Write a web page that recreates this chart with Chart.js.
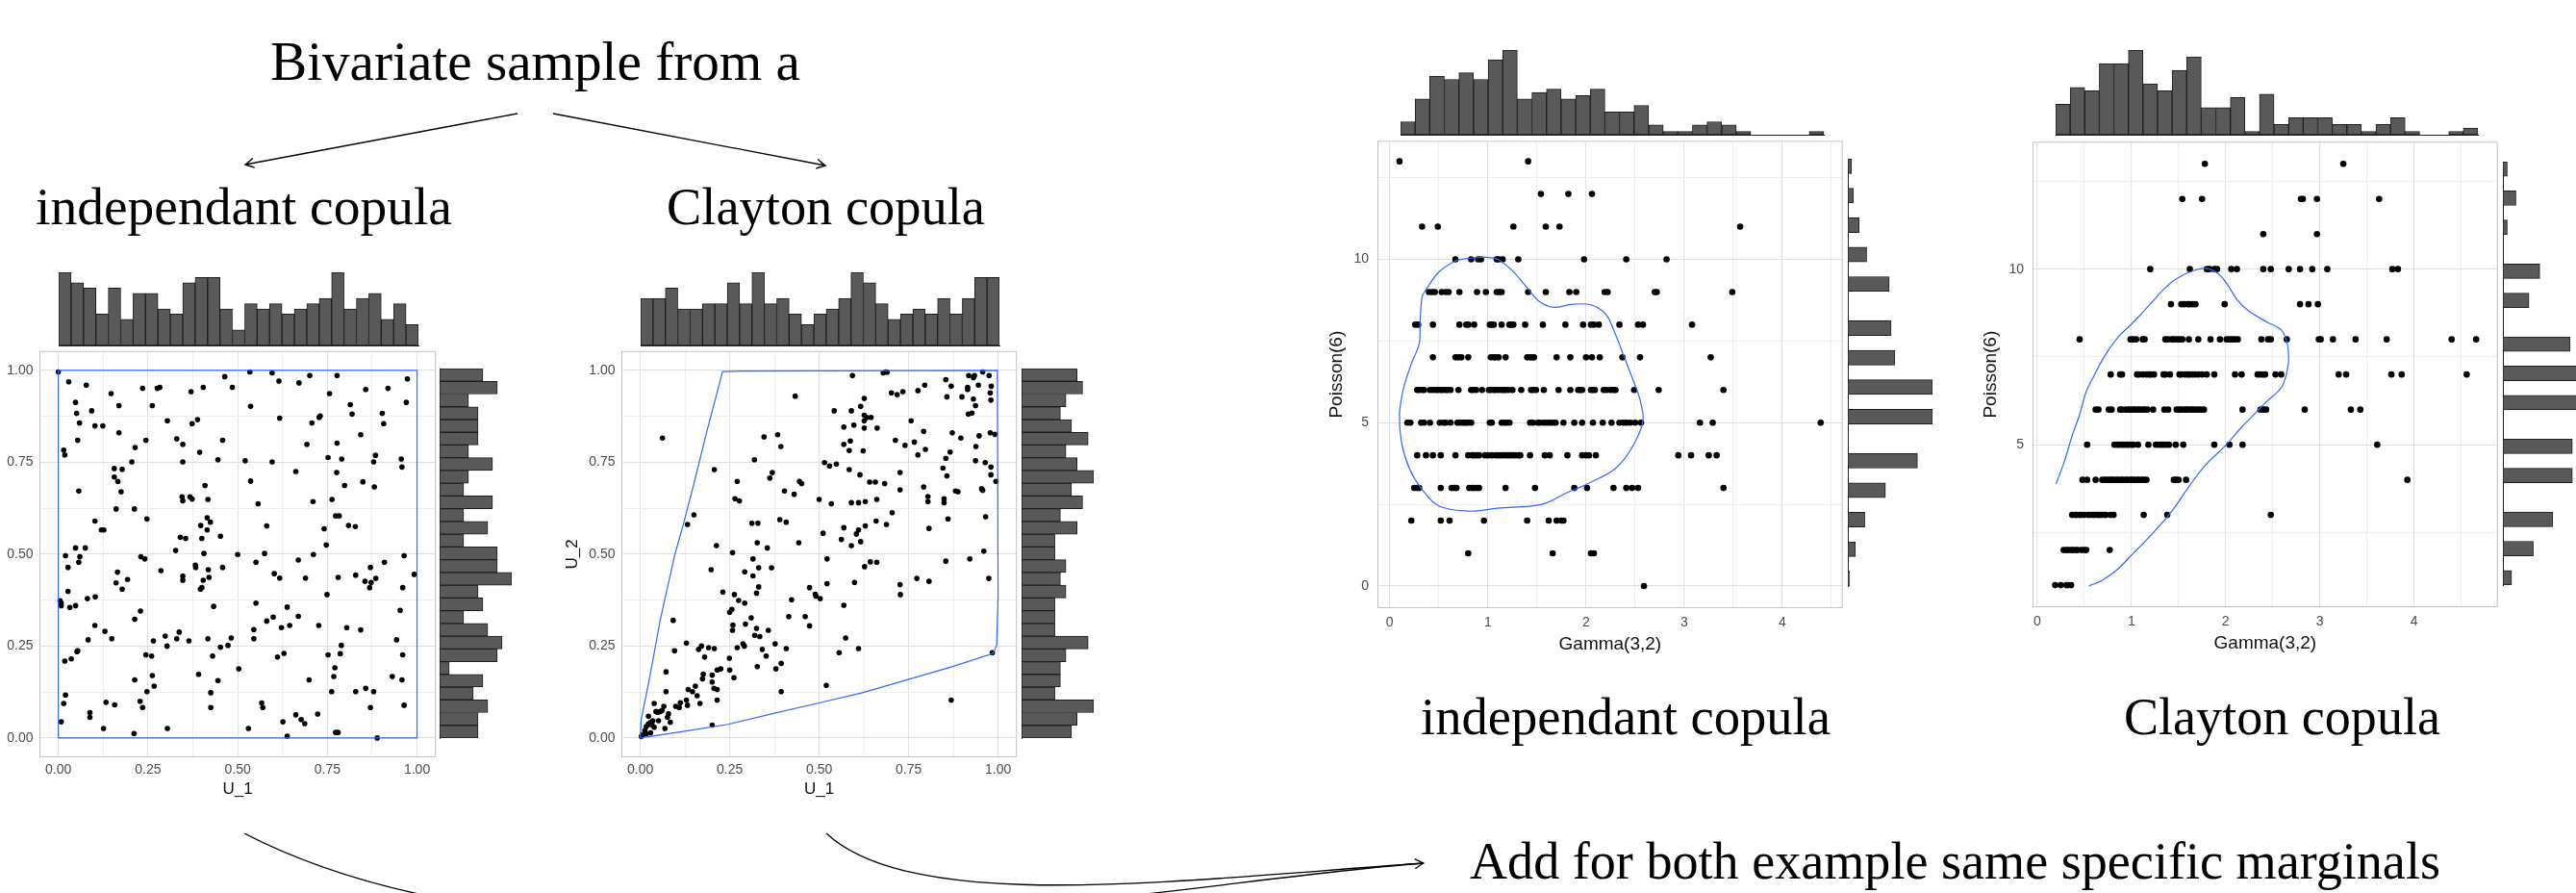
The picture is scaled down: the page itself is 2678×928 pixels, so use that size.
<!DOCTYPE html>
<html><head><meta charset="utf-8">
<script src="https://cdn.jsdelivr.net/npm/chart.js@4.4.1/dist/chart.umd.min.js"></script>
<style>
html,body{margin:0;padding:0;background:#fff;overflow:hidden;width:2678px;height:928px;}
#stage{position:relative;width:2678px;height:928px;overflow:hidden;background:#fff;}
#stage canvas{position:absolute;}
#ov{position:absolute;left:0;top:0;}
</style></head>
<body><div id="stage"><svg id="ov" width="2678" height="928" xmlns="http://www.w3.org/2000/svg"></svg></div>
<script>
// ---------------- DATA ----------------
const captions = ['Bivariate sample from a','independant copula','Clayton copula','Add for both example same specific marginals'];
const uTickValues = [0, 0.25, 0.5, 0.75, 1];
const uTickLabels = ['0.00','0.25','0.50','0.75','1.00'];
const gammaTickValues = [0, 1, 2, 3, 4];
const gammaTickLabels = ['0','1','2','3','4'];
const poissonTickValues = [0, 5, 10];
const poissonTickLabels = ['0','5','10'];

// independent copula sample (U_1, U_2)
const indepPoints = [[0.00,0.996],[0.534,0.996],[0.596,0.993],[0.701,0.986],[0.777,0.986],[0.464,0.983],[0.973,0.977],[0.029,0.969],[0.615,0.971],[0.671,0.966],[0.078,0.96],[0.235,0.951],[0.283,0.954],[0.276,0.951],[0.404,0.954],[0.485,0.954],[0.857,0.948],[0.919,0.951],[0.147,0.937],[0.370,0.942],[0.756,0.937],[0.048,0.913],[0.970,0.913],[0.814,0.907],[0.169,0.904],[0.262,0.904],[0.536,0.902],[0.093,0.89],[0.051,0.883],[0.819,0.881],[0.903,0.883],[0.730,0.876],[0.727,0.872],[0.617,0.870],[0.304,0.863],[0.388,0.866],[0.059,0.857],[0.373,0.855],[0.707,0.857],[0.907,0.855],[0.102,0.849],[0.124,0.849],[0.169,0.83],[0.843,0.825],[0.054,0.81],[0.244,0.81],[0.330,0.814],[0.458,0.81],[0.214,0.79],[0.347,0.799],[0.693,0.799],[0.777,0.802],[0.394,0.777],[0.015,0.783],[0.018,0.77],[0.884,0.769],[0.752,0.763],[0.790,0.759],[0.956,0.759],[0.205,0.751],[0.347,0.751],[0.445,0.757],[0.521,0.754],[0.596,0.751],[0.879,0.751],[0.958,0.737],[0.156,0.733],[0.178,0.731],[0.662,0.725],[0.776,0.722],[0.156,0.71],[0.166,0.698],[0.536,0.699],[0.849,0.697],[0.409,0.687],[0.798,0.687],[0.881,0.683],[0.057,0.672],[0.175,0.670],[0.345,0.656],[0.367,0.656],[0.347,0.645],[0.373,0.65],[0.417,0.649],[0.763,0.649],[0.710,0.643],[0.557,0.637],[0.161,0.623],[0.212,0.623],[0.773,0.604],[0.783,0.604],[0.415,0.599],[0.247,0.596],[0.102,0.59],[0.424,0.587],[0.397,0.578],[0.581,0.577],[0.809,0.578],[0.828,0.575],[0.12,0.566],[0.127,0.566],[0.415,0.566],[0.741,0.569],[0.452,0.549],[0.340,0.546],[0.355,0.543],[0.400,0.543],[0.747,0.525],[0.048,0.517],[0.075,0.517],[0.327,0.51],[0.02,0.496],[0.406,0.502],[0.5,0.499],[0.575,0.502],[0.711,0.499],[0.964,0.496],[0.060,0.493],[0.230,0.493],[0.241,0.487],[0.057,0.478],[0.551,0.478],[0.669,0.484],[0.909,0.478],[0.027,0.464],[0.382,0.47],[0.383,0.464],[0.458,0.464],[0.418,0.458],[0.870,0.464],[0.286,0.455],[0.165,0.451],[0.992,0.445],[0.602,0.447],[0.617,0.435],[0.689,0.435],[0.780,0.437],[0.829,0.443],[0.885,0.434],[0.347,0.44],[0.347,0.429],[0.420,0.437],[0.404,0.429],[0.193,0.431],[0.855,0.426],[0.872,0.423],[0.161,0.422],[0.868,0.409],[0.960,0.409],[0.400,0.409],[0.396,0.405],[0.178,0.405],[0.027,0.399],[0.749,0.39],[0.103,0.384],[0.081,0.379],[0.005,0.373],[0.008,0.367],[0.551,0.367],[0.008,0.36],[0.048,0.36],[0.032,0.355],[0.433,0.358],[0.638,0.356],[0.953,0.347],[0.229,0.345],[0.669,0.331],[0.599,0.329],[0.213,0.323],[0.581,0.318],[0.102,0.306],[0.645,0.306],[0.726,0.306],[0.622,0.3],[0.804,0.3],[0.843,0.294],[0.545,0.295],[0.13,0.29],[0.337,0.288],[0.298,0.277],[0.482,0.272],[0.149,0.27],[0.330,0.27],[0.417,0.27],[0.545,0.27],[0.083,0.267],[0.943,0.267],[0.364,0.264],[0.265,0.264],[0.303,0.25],[0.789,0.252],[0.473,0.252],[0.452,0.247],[0.054,0.237],[0.052,0.235],[0.629,0.23],[0.786,0.229],[0.244,0.226],[0.260,0.223],[0.752,0.226],[0.960,0.226],[0.430,0.223],[0.611,0.22],[0.036,0.215],[0.018,0.209],[0.771,0.191],[0.503,0.188],[0.391,0.173],[0.262,0.17],[0.768,0.167],[0.931,0.167],[0.213,0.158],[0.699,0.158],[0.958,0.158],[0.445,0.156],[0.267,0.141],[0.857,0.135],[0.247,0.126],[0.425,0.123],[0.762,0.126],[0.829,0.126],[0.879,0.126],[0.02,0.117],[0.228,0.1],[0.133,0.097],[0.567,0.095],[0.015,0.094],[0.157,0.09],[0.964,0.089],[0.57,0.083],[0.235,0.083],[0.425,0.083],[0.870,0.083],[0.088,0.069],[0.723,0.065],[0.088,0.056],[0.662,0.063],[0.677,0.05],[0.687,0.039],[0.008,0.044],[0.626,0.044],[0.126,0.026],[0.304,0.026],[0.530,0.026],[0.211,0.012],[0.773,0.015],[0.780,0.015],[0.638,0.005],[0.889,0.0]];
const indepOutline = [[0,0],[0,1],[1,1],[1,0],[0,0]];
const indepU1Hist = [14,12,11,6,11,5,10,10,7,6,12,13,13,7,3,8,7,8,6,7,8,9,14,7,9,10,5,8,4];
const indepU2Hist = [8,8,10,7,9,2,12,13,10,5,9,8,15,12,12,5,10,5,11,5,6,11,6,8,8,8,6,12,9];

// Clayton copula sample (U_1, U_2)
const claytonPoints = [[0.957,0.996],[0.686,0.996],[0.679,0.993],[0.690,0.995],[0.593,0.986],[0.918,0.986],[0.934,0.986],[0.975,0.986],[0.931,0.98],[0.854,0.975],[0.869,0.957],[0.795,0.96],[0.945,0.96],[0.981,0.957],[0.915,0.954],[0.915,0.948],[0.776,0.945],[0.702,0.939],[0.734,0.942],[0.718,0.934],[0.978,0.939],[0.433,0.930],[0.857,0.928],[0.899,0.928],[0.626,0.924],[0.931,0.922],[0.980,0.919],[0.937,0.904],[0.616,0.902],[0.542,0.89],[0.590,0.89],[0.626,0.878],[0.633,0.872],[0.645,0.872],[0.917,0.881],[0.927,0.884],[0.757,0.863],[0.626,0.863],[0.597,0.851],[0.569,0.846],[0.626,0.843],[0.662,0.843],[0.792,0.834],[0.872,0.830],[0.978,0.830],[0.991,0.826],[0.384,0.825],[0.947,0.822],[0.346,0.819],[0.062,0.816],[0.896,0.816],[0.713,0.81],[0.587,0.808],[0.766,0.805],[0.569,0.799],[0.740,0.796],[0.938,0.793],[0.393,0.793],[0.797,0.785],[0.584,0.782],[0.623,0.781],[0.866,0.778],[0.776,0.77],[0.854,0.761],[0.319,0.757],[0.937,0.754],[0.515,0.749],[0.964,0.749],[0.548,0.745],[0.529,0.740],[0.980,0.737],[0.846,0.734],[0.207,0.730],[0.584,0.730],[0.369,0.722],[0.726,0.722],[0.980,0.716],[0.614,0.716],[0.857,0.713],[0.362,0.707],[0.271,0.698],[0.445,0.698],[0.994,0.698],[0.451,0.692],[0.641,0.696],[0.657,0.696],[0.683,0.692],[0.792,0.683],[0.954,0.678],[0.957,0.674],[0.403,0.672],[0.726,0.675],[0.881,0.672],[0.888,0.67],[0.430,0.663],[0.804,0.657],[0.500,0.649],[0.661,0.649],[0.849,0.651],[0.265,0.651],[0.277,0.645],[0.804,0.643],[0.849,0.64],[0.590,0.64],[0.610,0.64],[0.629,0.643],[0.534,0.637],[0.704,0.613],[0.965,0.602],[0.150,0.607],[0.860,0.596],[0.390,0.594],[0.408,0.587],[0.659,0.59],[0.312,0.584],[0.329,0.584],[0.688,0.581],[0.132,0.581],[0.629,0.577],[0.569,0.572],[0.807,0.57],[0.610,0.566],[0.604,0.555],[0.511,0.557],[0.562,0.54],[0.616,0.534],[0.327,0.531],[0.443,0.531],[0.590,0.523],[0.213,0.523],[0.355,0.517],[0.960,0.508],[0.258,0.504],[0.315,0.487],[0.522,0.487],[0.921,0.487],[0.854,0.481],[0.643,0.479],[0.661,0.478],[0.627,0.466],[0.331,0.463],[0.367,0.463],[0.198,0.458],[0.292,0.452],[0.315,0.441],[0.974,0.434],[0.773,0.434],[0.807,0.426],[0.599,0.423],[0.522,0.42],[0.726,0.417],[0.331,0.411],[0.473,0.409],[0.231,0.397],[0.325,0.394],[0.263,0.39],[0.727,0.39],[0.489,0.391],[0.491,0.386],[0.503,0.379],[0.423,0.376],[0.275,0.374],[0.292,0.367],[0.569,0.361],[0.256,0.35],[0.250,0.342],[0.310,0.327],[0.415,0.33],[0.461,0.33],[0.092,0.32],[0.294,0.31],[0.259,0.307],[0.473,0.305],[0.325,0.298],[0.258,0.293],[0.358,0.293],[0.320,0.279],[0.334,0.276],[0.574,0.272],[0.129,0.258],[0.287,0.256],[0.377,0.256],[0.291,0.25],[0.171,0.25],[0.163,0.241],[0.191,0.246],[0.207,0.243],[0.271,0.246],[0.341,0.241],[0.408,0.243],[0.610,0.243],[0.096,0.237],[0.556,0.232],[0.984,0.232],[0.352,0.223],[0.180,0.22],[0.249,0.217],[0.394,0.203],[0.327,0.194],[0.225,0.188],[0.215,0.185],[0.379,0.188],[0.250,0.185],[0.072,0.18],[0.176,0.174],[0.201,0.171],[0.262,0.164],[0.174,0.161],[0.201,0.152],[0.520,0.143],[0.154,0.141],[0.206,0.135],[0.215,0.132],[0.134,0.132],[0.146,0.126],[0.072,0.126],[0.394,0.126],[0.159,0.115],[0.129,0.103],[0.215,0.103],[0.869,0.103],[0.167,0.094],[0.039,0.094],[0.112,0.096],[0.132,0.089],[0.099,0.086],[0.066,0.086],[0.109,0.083],[0.061,0.075],[0.044,0.072],[0.049,0.07],[0.056,0.072],[0.079,0.066],[0.023,0.059],[0.076,0.056],[0.035,0.047],[0.051,0.047],[0.084,0.043],[0.029,0.042],[0.023,0.038],[0.033,0.035],[0.017,0.031],[0.039,0.029],[0.069,0.026],[0.201,0.035],[0.013,0.02],[0.029,0.014],[0.017,0.011],[0.007,0.009],[0.003,0.004]];
const claytonOutline = [[0,0],[0.003,0.052],[0.025,0.157],[0.056,0.322],[0.096,0.496],[0.121,0.583],[0.151,0.696],[0.185,0.830],[0.21,0.922],[0.23,0.997],[0.284,0.998],[0.998,1.0],[1.0,0.383],[0.996,0.252],[0.986,0.23],[0.869,0.193],[0.621,0.123],[0.502,0.096],[0.364,0.065],[0.245,0.037],[0.116,0.017],[0,0]];
const claytonU1Hist = [9,9,11,7,7,8,8,12,8,14,8,9,6,4,6,7,9,14,12,8,5,6,7,6,9,6,9,13,13];
const claytonU2Hist = [9,10,13,6,7,7,8,12,6,6,6,8,7,8,6,6,10,7,11,9,13,10,8,12,9,7,8,11,10];

// Gamma(3,2) x Poisson(6) samples, one row of Gamma values per Poisson level
const poissonLevels = [13,12,11,10,9,8,7,6,5,4,3,2,1,0];
const indepGammaRows = [
 [0.10,1.41],
 [1.54,1.82,2.06],
 [0.33,0.49,1.26,1.59,1.73,3.57],
 [0.67,0.83,0.90,0.93,1.09,1.11,1.15,1.31,1.98,2.41,2.82],
 [0.40,0.43,0.46,0.53,0.57,0.60,0.71,0.89,0.98,1.09,1.12,1.14,1.41,1.59,1.83,1.90,2.19,2.22,2.70,2.72,3.49],
 [0.26,0.29,0.44,0.71,0.78,0.80,0.86,1.02,1.04,1.06,1.14,1.22,1.24,1.26,1.38,1.56,1.79,1.97,2.05,2.08,2.13,2.34,2.53,2.58,3.08],
 [0.44,0.67,0.70,0.73,0.80,1.03,1.06,1.08,1.11,1.18,1.40,1.43,1.45,1.47,1.70,1.84,2.00,2.06,2.14,2.37,2.55,3.27],
 [0.28,0.30,0.33,0.35,0.41,0.44,0.47,0.49,0.52,0.54,0.57,0.59,0.62,0.70,0.83,0.85,0.88,0.94,1.01,1.03,1.06,1.08,1.11,1.14,1.16,1.18,1.21,1.25,1.34,1.44,1.46,1.49,1.57,1.72,1.84,1.92,1.94,1.96,2.05,2.07,2.09,2.18,2.21,2.25,2.28,2.30,2.49,2.74,3.40],
 [0.18,0.21,0.32,0.35,0.41,0.51,0.55,0.57,0.62,0.69,0.71,0.74,0.76,0.78,0.80,0.83,1.02,1.04,1.14,1.17,1.19,1.22,1.43,1.46,1.51,1.53,1.57,1.60,1.63,1.66,1.69,1.77,1.88,1.96,2.07,2.17,2.26,2.34,2.38,2.41,2.45,2.50,2.56,3.16,3.29,4.39],
 [0.28,0.37,0.44,0.52,0.67,0.80,0.84,0.86,0.89,0.91,0.97,1.00,1.04,1.08,1.11,1.14,1.17,1.20,1.22,1.25,1.28,1.31,1.33,1.43,1.58,1.63,1.81,1.96,2.00,2.03,2.10,2.94,3.07,3.25,3.33],
 [0.25,0.28,0.30,0.52,0.63,0.66,0.68,0.81,0.84,0.86,0.89,0.91,1.18,1.48,1.88,2.01,2.28,2.41,2.47,2.53,3.40],
 [0.22,0.52,0.61,0.96,1.40,1.62,1.70,1.75,1.77],
 [0.80,1.66,2.05,2.08],
 [2.59]
];
const claytonGammaRows = [
 [1.78,3.25],
 [1.54,1.75,2.80,2.82,2.97,3.63],
 [2.40,2.97],
 [1.20,1.62,1.80,1.83,1.88,1.91,2.06,2.12,2.40,2.48,2.67,2.79,2.92,3.08,3.77,3.83],
 [1.42,1.53,1.56,1.60,1.62,1.65,1.68,1.99,2.79,2.88,2.98],
 [0.45,0.99,1.02,1.05,1.12,1.14,1.36,1.39,1.43,1.45,1.48,1.51,1.54,1.61,1.71,1.84,1.94,2.01,2.04,2.07,2.10,2.13,2.38,2.45,2.48,2.65,2.99,3.01,3.14,3.38,3.71,4.40,4.66],
 [0.78,0.88,0.90,1.06,1.08,1.12,1.16,1.19,1.21,1.24,1.34,1.36,1.41,1.51,1.53,1.57,1.60,1.62,1.65,1.68,1.71,1.75,1.80,1.88,2.10,2.17,2.34,2.37,2.40,2.42,2.53,2.59,3.20,3.28,3.76,3.87,4.56],
 [0.62,0.65,0.76,0.79,0.88,0.90,0.94,0.97,0.99,1.02,1.04,1.07,1.09,1.12,1.14,1.17,1.23,1.35,1.39,1.48,1.51,1.53,1.56,1.58,1.60,1.63,1.65,1.68,1.71,1.74,1.77,2.18,2.37,2.40,2.43,2.84,3.33,3.43],
 [0.53,0.82,0.85,0.87,0.90,0.92,0.95,0.97,1.00,1.02,1.07,1.18,1.26,1.29,1.32,1.34,1.37,1.40,1.47,1.55,1.88,2.04,2.18,3.61],
 [0.48,0.53,0.62,0.69,0.72,0.74,0.77,0.79,0.81,0.84,0.86,0.89,0.91,0.94,0.96,0.99,1.01,1.03,1.06,1.08,1.11,1.13,1.16,1.45,1.47,1.50,1.58,3.93],
 [0.37,0.40,0.42,0.45,0.47,0.50,0.54,0.56,0.59,0.61,0.64,0.66,0.68,0.71,0.73,0.78,0.81,1.13,1.38,2.48],
 [0.28,0.31,0.33,0.36,0.38,0.41,0.43,0.47,0.50,0.52,0.77],
 [0.19,0.25,0.31,0.33,0.36],
 []
];
const indepContour = [[0.96,10.07],[0.80,10.03],[0.67,9.95],[0.50,9.61],[0.37,9.07],[0.33,8.85],[0.31,8.1],[0.30,7.41],[0.22,6.8],[0.14,6.04],[0.10,5.26],[0.12,4.4],[0.2,3.6],[0.33,2.95],[0.50,2.45],[0.80,2.29],[1.1,2.38],[1.55,2.5],[1.8,2.85],[2.01,3.12],[2.30,3.6],[2.48,4.3],[2.58,5.07],[2.55,5.7],[2.50,6.14],[2.39,7.0],[2.30,7.7],[2.21,8.29],[2.10,8.55],[2.01,8.63],[1.85,8.62],[1.67,8.53],[1.52,8.72],[1.38,9.2],[1.25,9.65],[1.10,10.0],[0.96,10.07]];
const claytonContour = [[0.20,3.88],[0.29,4.54],[0.37,5.25],[0.45,5.86],[0.52,6.51],[0.60,6.95],[0.71,7.5],[0.86,8.07],[0.98,8.38],[1.10,8.71],[1.22,9.06],[1.34,9.42],[1.47,9.71],[1.63,9.93],[1.79,10.02],[1.91,9.89],[2.00,9.64],[2.12,9.14],[2.24,8.82],[2.44,8.49],[2.59,8.27],[2.65,7.94],[2.67,7.5],[2.65,7.06],[2.59,6.62],[2.44,6.24],[2.32,5.91],[2.16,5.47],[2.00,4.98],[1.79,4.43],[1.63,3.88],[1.43,3.11],[1.22,2.46],[1.02,1.91],[0.86,1.47],[0.69,1.14],[0.55,0.98]];
const indepGammaHist = [4,11,18,17,19,17,23,26,11,13,14,11,12,14,7,7,9,3,1,1,3,4,3,1,0,0,0,0,1];
const indepPoissonHist = [1,0,4,0,9,0,20,0,37,0,0,45,0,45,0,25,0,23,0,0,22,0,10,0,6,0,3,0,2];
const claytonGammaHist = [9,14,13,21,21,25,15,13,19,23,8,8,11,1,12,3,5,5,5,3,3,1,3,5,1,0,0,1,2];
const claytonPoissonHist = [4,0,14,0,23,0,0,32,0,32,0,0,39,0,36,0,31,0,0,12,0,17,0,0,2,0,6,0,2];

// ---------------- DRAWING ----------------
Chart.defaults.font.family = "'Liberation Sans', Arial, sans-serif";
const stage = document.getElementById('stage');
function addCanvas(left, top, w, h) {
  const c = document.createElement('canvas');
  c.width = w; c.height = h;
  c.style.left = left + 'px'; c.style.top = top + 'px';
  c.style.width = w + 'px'; c.style.height = h + 'px';
  stage.appendChild(c);
  return c.getContext('2d');
}
const framePlugin = {
  id: 'frame',
  beforeDatasetsDraw(chart, args, opts) {
    const a = chart.chartArea, ctx = chart.ctx;
    ctx.save(); ctx.strokeStyle = opts.color || '#c0c0c0'; ctx.lineWidth = 1;
    ctx.strokeRect(a.left - 0.5, a.top - 0.5, a.right - a.left + 1, a.bottom - a.top + 1);
    ctx.restore();
  }
};
const near = (a, b) => Math.abs(a - b) < 1e-9;
const toXY = arr => arr.map(p => ({x: p[0], y: p[1]}));
const rowsToXY = rows => rows.flatMap((row, i) => row.map(x => ({x, y: poissonLevels[i]})));
const midpoints = vals => vals.slice(0, -1).map((v, i) => (v + vals[i + 1]) / 2);
function zeroPad(s) { s.paddingLeft = 0; s.paddingRight = 0; s.paddingTop = 0; s.paddingBottom = 0; }

function scatterPanel(o) {
  const ctx = addCanvas(o.left, o.top, o.w, o.h);
  const inRange = (v, lo, hi) => v >= lo - 1e-9 && v <= hi + 1e-9;
  const xAll = o.xMajor.concat(o.xMinor).filter(v => inRange(v, o.xMin, o.xMax)).sort((a, b) => a - b);
  const yAll = o.yMajor.concat(o.yMinor).filter(v => inRange(v, o.yMin, o.yMax)).sort((a, b) => a - b);
  const label = (vals, labels) => v => { const i = vals.findIndex(m => near(m, v)); return i >= 0 ? labels[i] : ''; };
  const gridColor = vals => c => (c.tick && vals.some(m => near(m, c.tick.value))) ? '#e0e0e0' : '#eeeeee';
  const tickFont = {size: o.tickSize};
  const titleFont = {size: o.titleSize};
  new Chart(ctx, {
    type: 'scatter',
    data: {datasets: [
      {data: toXY(o.line), showLine: true, borderColor: '#3366FF', borderWidth: 1.2, pointRadius: 0, fill: false, tension: o.tension},
      {data: o.points, pointRadius: o.r, pointHoverRadius: o.r, backgroundColor: '#000', borderWidth: 0}
    ]},
    options: {
      responsive: false, animation: false, events: [],
      layout: {padding: {left: 0, top: 1, right: 1, bottom: 0}},
      plugins: {legend: {display: false}, tooltip: {enabled: false}, frame: {color: '#c4c4c4'}},
      scales: {
        x: {type: 'linear', min: o.xMin, max: o.xMax,
          afterBuildTicks: s => { s.ticks = xAll.map(v => ({value: v})); },
          afterFit: s => { s.height = o.xH; zeroPad(s); },
          ticks: {callback: label(o.xMajor, o.xLabels), color: '#4d4d4d', font: tickFont, padding: o.xPad, autoSkip: false, maxRotation: 0, minRotation: 0},
          grid: {drawTicks: false, color: gridColor(o.xMajor), lineWidth: 1},
          border: {display: false},
          title: {display: true, text: o.xTitle, color: '#111', font: titleFont, padding: {top: 0, bottom: o.xTitlePad}}},
        y: {type: 'linear', min: o.yMin, max: o.yMax,
          afterBuildTicks: s => { s.ticks = yAll.map(v => ({value: v})); },
          afterFit: s => { s.width = o.yW; zeroPad(s); },
          ticks: {callback: label(o.yMajor, o.yLabels), color: '#4d4d4d', font: tickFont, padding: o.yPad, autoSkip: false},
          grid: {drawTicks: false, color: gridColor(o.yMajor), lineWidth: 1},
          border: {display: false},
          title: {display: true, text: o.yTitle, color: '#111', font: titleFont, padding: {top: o.yTitlePad, bottom: 0}}}
      }
    },
    plugins: [framePlugin]
  });
}

function histPanel(o) {
  const P = 2;
  const ctx = addCanvas(o.left - P, o.top - P, o.w + 2 * P, o.h + 2 * P);
  const labels = o.counts.map((_, i) => 'bin' + i);
  const cat = {type: 'category', display: true, reverse: !!o.horizontal, offset: true,
    ticks: {display: false}, grid: {display: false, drawTicks: false},
    border: {display: true, color: '#222', width: 1},
    afterFit: s => { if (o.horizontal) s.width = 0; else s.height = 0; zeroPad(s); }};
  const val = {type: 'linear', display: false, min: 0, max: Math.max(...o.counts)};
  new Chart(ctx, {
    type: 'bar',
    data: {labels, datasets: [{data: o.counts, backgroundColor: '#595959', borderColor: '#1e1e1e', borderWidth: 1, borderSkipped: false, barPercentage: 1, categoryPercentage: 1}]},
    options: {indexAxis: o.horizontal ? 'y' : 'x', responsive: false, animation: false, events: [],
      layout: {padding: P}, plugins: {legend: {display: false}, tooltip: {enabled: false}},
      scales: o.horizontal ? {y: cat, x: val} : {x: cat, y: val}}
  });
}

// --- U panels (left group) ---
const uCommon = {xMin: -0.05, xMax: 1.05, yMin: -0.05, yMax: 1.05,
  xMajor: uTickValues, xMinor: midpoints(uTickValues), xLabels: uTickLabels,
  yMajor: uTickValues, yMinor: midpoints(uTickValues), yLabels: uTickLabels,
  xTitle: 'U_1', yTitle: 'U_2', tickSize: 14, titleSize: 17, r: 2.8,
  yW: 64, xH: 46, xPad: 6, yPad: 7.5, yTitlePad: 2.3, xTitlePad: 1.8, w: 477, h: 469, top: 363, tension: 0};
scatterPanel(Object.assign({}, uCommon, {left: -22, points: toXY(indepPoints), line: indepOutline}));
scatterPanel(Object.assign({}, uCommon, {left: 583, w: 476, points: toXY(claytonPoints), line: claytonOutline}));
histPanel({left: 61, top: 283, w: 374, h: 76, counts: indepU1Hist});
histPanel({left: 457, top: 383, w: 75, h: 384, counts: indepU2Hist, horizontal: true});
histPanel({left: 666, top: 283, w: 373, h: 76, counts: claytonU1Hist});
histPanel({left: 1062, top: 383, w: 75, h: 384, counts: claytonU2Hist, horizontal: true});

// --- Gamma / Poisson panels (right group) ---
const gCommon = {xMajor: gammaTickValues, xMinor: midpoints(gammaTickValues.concat([5])), xLabels: gammaTickLabels,
  yLabels: poissonTickLabels, xTitle: 'Gamma(3,2)', yTitle: 'Poisson(6)', tickSize: 14, titleSize: 19, r: 3.3,
  yW: 60, xH: 52, xPad: 8, yPad: 10, tension: 0.35};
scatterPanel(Object.assign({}, gCommon, {left: 1373, top: 144, w: 545, h: 539,
  xMin: -0.115, xMax: 4.605, yMin: -0.65, yMax: 13.6,
  yMajor: poissonTickValues, yMinor: midpoints(poissonTickValues.concat([15])),
  yTitlePad: 5.6, xTitlePad: 1.6, points: rowsToXY(indepGammaRows), line: indepContour}));
scatterPanel(Object.assign({}, gCommon, {left: 2054, top: 145, w: 545, h: 537,
  xMin: -0.04, xMax: 4.88, yMin: 0.4, yMax: 13.6,
  yMajor: poissonTickValues, yMinor: midpoints(poissonTickValues.concat([15])),
  yTitlePad: 4.6, xTitlePad: 1.9, points: rowsToXY(claytonGammaRows), line: claytonContour}));
histPanel({left: 1456, top: 52, w: 440, h: 88, counts: indepGammaHist});
histPanel({left: 1921, top: 165, w: 88, h: 444, counts: indepPoissonHist, horizontal: true});
histPanel({left: 2137, top: 52, w: 439, h: 88, counts: claytonGammaHist});
histPanel({left: 2602, top: 168, w: 88, h: 440, counts: claytonPoissonHist, horizontal: true});

// --- captions and arrows (SVG overlay) ---
const svg = document.getElementById('ov');
const NS = 'http://www.w3.org/2000/svg';
function svgEl(tag, attrs) { const e = document.createElementNS(NS, tag); for (const k in attrs) e.setAttribute(k, attrs[k]); svg.appendChild(e); return e; }
function caption(str, x, y, size, len) {
  const t = svgEl('text', {x, y, 'font-family': "'Liberation Serif', 'Times New Roman', serif", 'font-size': size, fill: '#000', textLength: len, lengthAdjust: 'spacingAndGlyphs'});
  t.textContent = str;
}
caption(captions[0], 281, 83, 56, 551);
caption(captions[1], 37, 233, 55, 433);
caption(captions[2], 693, 233, 55, 331);
caption(captions[1], 1477, 763, 54.5, 426);
caption(captions[2], 2208, 763, 54.5, 329);
caption(captions[3], 1528, 913, 54.5, 1009);

function arrowHead(tx, ty, fx, fy) {
  const dx = tx - fx, dy = ty - fy, L = Math.hypot(dx, dy);
  const ux = dx / L, uy = dy / L, nx = -uy, ny = ux;
  const b = 9, s = 5;
  const p1 = [tx - b * ux + s * nx, ty - b * uy + s * ny];
  const p2 = [tx - b * ux - s * nx, ty - b * uy - s * ny];
  const c1 = [tx - 2.5 * ux + 1.2 * nx, ty - 2.5 * uy + 1.2 * ny];
  const c2 = [tx - 2.5 * ux - 1.2 * nx, ty - 2.5 * uy - 1.2 * ny];
  svgEl('path', {d: `M${p1} Q${c1} ${tx},${ty} Q${c2} ${p2}`, fill: 'none', stroke: '#000', 'stroke-width': 1.3});
}
const stroke = {fill: 'none', stroke: '#000', 'stroke-width': 1.3};
svgEl('path', Object.assign({d: 'M538,118 L255,171'}, stroke)); arrowHead(255, 171, 538, 118);
svgEl('path', Object.assign({d: 'M575,118 L858,172'}, stroke)); arrowHead(858, 172, 575, 118);
svgEl('path', Object.assign({d: 'M254,866 C600,1045 1220,915 1480,897'}, stroke));
svgEl('path', Object.assign({d: 'M859,866 C950,950 1220,915 1480,897'}, stroke));
arrowHead(1480, 897, 1220, 915);
</script>
</body></html>
